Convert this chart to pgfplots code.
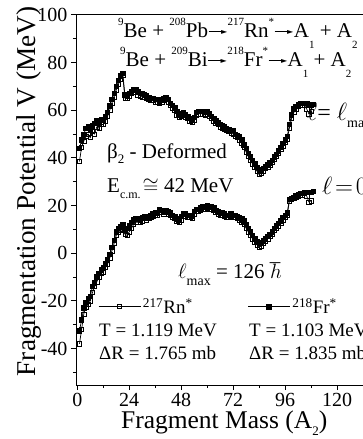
\documentclass[border=0pt]{standalone}
\usepackage{fontspec}
\setmainfont{Liberation Serif}
\newfontfamily\dejavu{DejaVu Sans}
\usepackage{pgfplots}
\usepackage{pgfplotstable}
\pgfplotsset{compat=1.18}
\newcommand{\fz}[1]{\fontsize{#1}{#1}\selectfont}
\newcommand{\rarr}{\kern0.5pt\raisebox{0.3em}{\rule{15pt}{0.6pt}}\kern-2.5pt\raisebox{0.13em}{\dejavu\fz{8}►}\kern0.5pt}
\newcommand{\hi}[1]{\raisebox{12pt}{\fz{11}#1}}
\newcommand{\lo}[1]{\raisebox{-11pt}{\fz{11}#1}}

\pgfplotstableread{
A U L
1 38.5 -38
2 44.5 -32
3 47 -25.5
4 49 -22.5
5 50 -21.5
6 48.5 -20
7 51 -16.5
8 50 -14
9 53 -12
10 52.5 -10
11 54 -8.5
12 54 -8
13 55.5 -6
14 57.5 -4.5
15 60 -2
16 63 1
17 65.5 4
18 68.5 7.5
19 71 9
20 73 9.5
21 74.5 10
22 65 8
23 65 7.5
24 66 9
25 67 10.5
26 67.5 12
27 67.5 13
28 66.5 13
29 66 13
30 65.5 13.5
31 65.5 14.5
32 65 14
33 64.5 14.5
34 64 15
35 64 15.5
36 63.5 16
37 63.5 16
38 63 17
39 63.5 17
40 64 16.5
41 64.5 17
42 63.5 16.5
43 62 16
44 61 15
45 60 14.5
46 58 13.5
47 57 13
48 57.5 14
49 58 15.5
50 57 15.5
51 56.5 15
52 55.5 15
53 55 14.5
54 56 16.5
55 58 17.5
56 58.5 17.5
57 58.5 18
58 58.5 18.5
59 58 18.5
60 58.5 19
61 57.5 18.5
62 56.5 18.5
63 55.5 18
64 54.5 17
65 54 16.5
66 53 16
67 52.5 16
68 52 15.5
69 51.5 15
70 51 15
71 50.5 15.5
72 50 15
73 49 15
74 48.5 14.5
75 47.5 14
76 46 13
77 44.5 12
78 42.5 10.5
79 40.5 9
80 39 7.5
81 37.5 6
82 36 4.5
83 34.5 3.5
84 33 2.5
85 33.5 3
86 34.5 4
87 35.5 5
88 36 6
89 37 7
90 38 8
91 39.5 9.5
92 40.5 10.5
93 42 11.5
94 43.5 12.5
95 45 14
96 46.5 15
97 48 16
98 52.5 22
99 56.5 22.5
100 59 23
101 60.5 23.5
102 61.5 24
103 62 24.5
104 62 24.5
105 62 25
106 60.5 24
107 58.5 21.5
108 59.5 22
}\rn

\pgfplotstableread{
A U L
1 44 -32.5
2 47.5 -28
3 50 -23
4 52.5 -20.5
5 53 -19
6 51.5 -18
7 53.5 -14
8 54.5 -12.5
9 55.5 -10
10 55 -8.5
11 56 -7
12 56 -6
13 57.5 -4.5
14 59 -2.5
15 62 -0.5
16 64.5 2.5
17 67 5.5
18 70 9
19 72.5 10.5
20 74.5 11
21 75.5 12
22 66.5 10
23 66 10.5
24 67 11.5
25 68 13
26 68.5 14
27 68.5 14.5
28 68 14.5
29 67 14
30 67 15
31 66.5 15.5
32 66 15
33 65.5 15.5
34 65 16
35 65 16.5
36 64.5 17
37 64.5 17
38 64 18.5
39 64.5 18
40 65 17.5
41 65.5 18
42 64.5 17.5
43 63 17
44 62 16
45 61 15.5
46 59.5 14.5
47 58 14
48 58.5 15.5
49 59 16.5
50 58 16.5
51 57.5 16
52 56.5 16
53 56 15.5
54 57 17.5
55 59 18.5
56 59.5 18.5
57 59.5 19
58 59.5 19.5
59 59 19.5
60 59.5 20
61 58.5 19.5
62 57.5 19.5
63 56.5 19
64 55.5 18
65 55 17.5
66 54 17
67 53.5 17
68 53 16.5
69 52.5 16
70 52 16
71 51.5 16.5
72 51.5 16
73 50 16
74 49.5 15.5
75 49 15
76 47.5 14.5
77 45.5 13.5
78 44 12
79 42 10.5
80 40.5 9
81 39 7.5
82 37.5 6
83 36 5
84 34.5 4.5
85 35 4.5
86 35.5 5.5
87 36.5 6
88 37 7
89 38 8
90 39 9
91 40.5 10.5
92 41.5 11.5
93 43 12.5
94 44.5 13.5
95 46 15
96 47.5 16
97 49 17
98 54 22.5
99 58 23
100 60.5 23.5
101 61.5 24
102 62.5 24.5
103 63 25
104 63 25
105 63 25.5
106 63 25.5
107 62.5 25.5
108 62 25.5
109 62.5 26
}\fr

\begin{document}
\begin{tikzpicture}
\begin{axis}[
  scale only axis, width=304.3pt, height=370.1pt,
  at={(0,0)}, anchor=south west,
  xmin=-0.6, xmax=140, ymin=-55.3, ymax=100,
  xtick={0,24,...,120}, ytick={-40,-20,...,100},
  minor xtick={12,36,...,132}, minor ytick={-50,-30,...,90},
  tick align=outside, xtick pos=bottom, ytick pos=left,
  major tick length=5pt, minor tick length=3pt,
  tick style={black, line width=0.9pt},
  axis line style={line width=0.9pt},
  ticklabel style={font=\fz{20}},
  /pgf/number format/assume math mode=true,
  xlabel={Fragment Mass (A\raisebox{-7pt}{\fz{13}2})},
  ylabel={Fragmentation Potential V (MeV)},
  xlabel style={font=\fz{25.5}, at={(axis description cs:0.487,-0.117)}, anchor=base},
  ylabel style={font=\fz{27.2}, at={(axis description cs:-0.1347,0.523)}, anchor=base},
  legend columns=2,
  legend style={draw=none, fill=none, at={(axis description cs:0.0723,0.2116)}, anchor=west,
    font=\fz{19}, inner sep=0pt,
    /tikz/every even column/.append style={column sep=53pt}},
  legend image code/.code={\draw[#1, mark repeat=2, mark phase=2] plot coordinates {(0pt,0pt) (21pt,0pt) (42pt,0pt)};},
]
\addplot[black, line width=0.7pt, mark=square, mark size=2.1pt, mark options={fill=white, solid, line width=0.6pt}] table[x=A, y=U] {\rn};
\addlegendentry{\textsuperscript{217}Rn\textsuperscript{*}}
\addplot[black, line width=0.7pt, mark=square*, mark size=2.2pt, mark options={solid}] table[x=A, y=U] {\fr};
\addlegendentry{\textsuperscript{218}Fr\textsuperscript{*}}
\addplot[black, line width=0.7pt, mark=square, mark size=2.1pt, mark options={fill=white, solid, line width=0.6pt}, forget plot] table[x=A, y=L] {\rn};
\addplot[black, line width=0.7pt, mark=square*, mark size=2.2pt, mark options={solid}, forget plot] table[x=A, y=L] {\fr};
\end{axis}
\node[anchor=base west, inner sep=0pt, font=\fz{21}] at (42pt,347.3pt) {\hi{9}Be + \hi{208}Pb\rarr\hi{217}Rn\hi{*}\rarr A\lo{1} + A\lo{2}};
\node[anchor=base west, inner sep=0pt, font=\fz{21}] at (44pt,318.3pt) {\hi{9}Be + \hi{209}Bi\rarr\hi{218}Fr\hi{*}\rarr A\lo{1} + A\lo{2}};
\node[anchor=base west, inner sep=0pt, font=\fz{21}] at (31pt,226.7pt) {β\raisebox{-5pt}{\fz{13}2} - Deformed};
\node[anchor=base west, inner sep=0pt, font=\fz{21}] at (31pt,192.3pt) {E\raisebox{-6pt}{\fz{12}c.m.}\kern2pt$\cong$ 42 MeV};
\node[anchor=base west, inner sep=0pt, font=\fz{24}] at (246pt,190pt) {$\ell\!=\!0\hbar$};
\node[anchor=base west, inner sep=0pt, font=\fz{24}] at (231pt,264pt) {$\ell$= $\ell$\raisebox{-7pt}{\fz{14}max}};
\node[anchor=base west, inner sep=0pt, font=\fz{21}] at (102pt,106.7pt) {$\ell$\raisebox{-7pt}{\fz{14}max} = 126 $\hbar$};
\node[anchor=base west, inner sep=0pt, font=\fz{19}] at (23pt,48.3pt) {T = 1.119 MeV};
\node[anchor=base west, inner sep=0pt, font=\fz{19}] at (23pt,25.7pt) {ΔR = 1.765 mb};
\node[anchor=base west, inner sep=0pt, font=\fz{19}] at (173pt,48.3pt) {T = 1.103 MeV};
\node[anchor=base west, inner sep=0pt, font=\fz{19}] at (173pt,25.7pt) {ΔR = 1.835 mb};
\pgfresetboundingbox
\path (-76pt,-54pt) rectangle (286pt,385pt);
\end{tikzpicture}
\end{document}
